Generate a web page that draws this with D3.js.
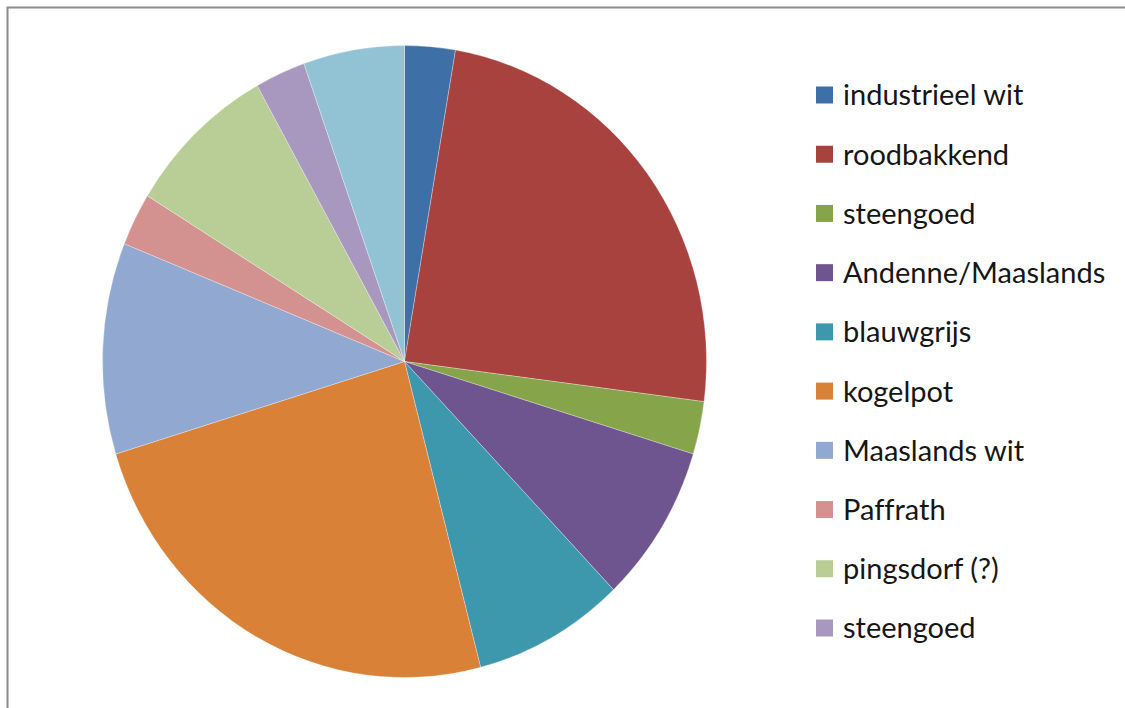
<!DOCTYPE html>
<html>
<head>
<meta charset="utf-8">
<script src="https://cdn.jsdelivr.net/npm/d3@7"></script>
<style>
  body { margin: 0; background: #fff; }
  svg { display: block; }
  .legend text { font-family: Lato, "Open Sans", sans-serif; font-size: 29px; fill: #161616; font-variant-ligatures: none; }
</style>
</head>
<body>
<svg id="chart" width="1125" height="708"></svg>
<script>
// counts per ware type (slices, 37 in total)
const categories = ["industrieel wit", "roodbakkend", "steengoed", "Andenne/Maaslands", "blauwgrijs",
                    "kogelpot", "Maaslands wit", "Paffrath", "pingsdorf (?)", "steengoed", "overig"];
const counts = [1, 9, 1, 3, 3, 9, 4, 1, 3, 1, 2];
const colors = ["#3e70a7", "#a8423f", "#86a44a", "#6f5590", "#3d98ae",
                "#da8138", "#91a8d0", "#d39290", "#b9cd96", "#a898bf", "#92c3d5"];
// the legend box only had room for the first ten entries
const legendCount = 10;

const svg = d3.select("#chart");
const width = +svg.attr("width"),
    height = +svg.attr("height");

// chart frame (only top and left edge visible in the crop)
svg.append("path")
    .attr("d", `M7.5,${height} V7.5 H${width}`)
    .attr("fill", "none")
    .attr("stroke", "#8c8c8c")
    .attr("stroke-width", 2);

const cx = 404.5, cy = 361.5;
const ry = 316, rx = 302; // pie is slightly squashed horizontally

const pie = d3.pie().sort(null).value(d => d.value);
const arc = d3.arc().innerRadius(0).outerRadius(ry);

const data = categories.map((name, i) => ({ name: name, value: counts[i], color: colors[i] }));

const pieG = svg.append("g")
    .attr("transform", `translate(${cx},${cy}) scale(${rx / ry},1)`);

pieG.selectAll("path")
    .data(pie(data))
    .join("path")
    .attr("d", arc)
    .attr("fill", d => d.data.color)
    .attr("stroke", "#ffffff")
    .attr("stroke-opacity", 0.5)
    .attr("stroke-width", 0.6);

// legend
const legendY = d3.scaleLinear().domain([0, legendCount - 1]).range([95, 628]);

const legend = svg.append("g").attr("class", "legend")
    .selectAll("g")
    .data(data.slice(0, legendCount))
    .join("g")
    .attr("transform", (d, i) => `translate(816,${legendY(i)})`);

legend.append("rect")
    .attr("x", 0)
    .attr("y", -8.5)
    .attr("width", 17)
    .attr("height", 17)
    .attr("fill", d => d.color);

legend.append("text")
    .attr("x", 27)
    .attr("dy", "0.36em")
    .text(d => d.name);
</script>
</body>
</html>
